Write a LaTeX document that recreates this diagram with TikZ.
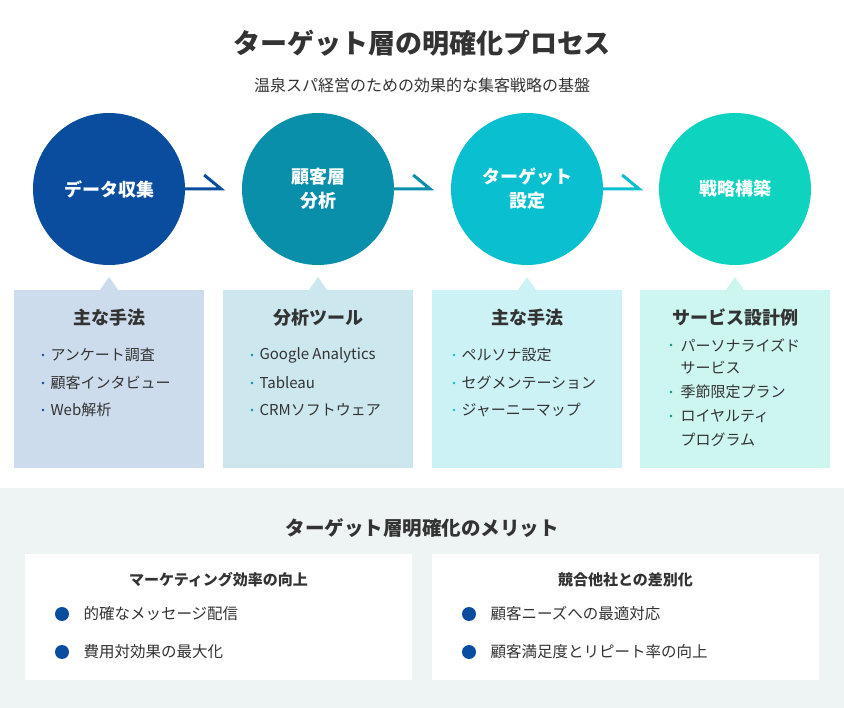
\documentclass[tikz,border=0pt]{standalone}
\usepackage{fontspec}
\setmainfont{Noto Sans CJK JP}
\begin{document}
\begin{tikzpicture}[x=1pt,y=-1pt]
\definecolor{cA}{HTML}{0A4C9E}\definecolor{cB}{HTML}{0A8FAA}\definecolor{cC}{HTML}{0ABFCF}\definecolor{cD}{HTML}{0DD3BF}
\definecolor{bA}{HTML}{CDDCEC}\definecolor{bB}{HTML}{CCE7ED}\definecolor{bC}{HTML}{CDF2F5}\definecolor{bD}{HTML}{CDF6F1}
\definecolor{bg}{HTML}{EEF3F4}\definecolor{tx}{HTML}{333333}
\tikzset{circ/.style={circle,minimum size=152pt,inner sep=0pt,text=white,font=\bfseries\fontsize{18}{24}\selectfont,align=center},
 box/.style={minimum width=190pt,minimum height=178pt,inner sep=0pt},
 bt/.style={font=\bfseries\fontsize{18}{20}\selectfont,text=tx},
 it/.style={font=\fontsize{15}{23.5}\selectfont,text=tx,anchor=west,align=left},
 arr/.style={line width=3pt},
 wb/.style={fill=white,minimum width=387pt,minimum height=126pt,inner sep=0pt}}
\useasboundingbox (0,0) rectangle (844,708);
\fill[white] (0,0) rectangle (844,708);
\node[font=\bfseries\fontsize{27}{30}\selectfont,text=tx] (title) at (422,43) {ターゲット層の明確化プロセス};
\node[font=\fontsize{16}{19}\selectfont,text=tx] (sub) at (422,85) {温泉スパ経営のための効果的な集客戦略の基盤};
\foreach \x/\c/\b/\t [count=\i] in {109/cA/bA/データ収集,318/cB/bB/{顧客層\\分析},527/cC/bC/{ターゲット\\設定},735/cD/bD/戦略構築}{
 \node[circ,fill=\c] (c\i) at (\x,189) {\t};
 \node[box,fill=\b] (b\i) at (\x,379) {};
 \fill[\b] (\x-9,290) -- (\x,277) -- (\x+9,290) -- cycle;
}
\foreach \i/\j/\c in {1/2/cA,2/3/cB,3/4/cC}{
 \coordinate (e\i) at ([xshift=36pt]c\i.east);
 \draw[arr,\c] (c\i.east) -- (e\i) -- ++(-17,-14);
}
\node[bt] (h1) at (109,318) {主な手法};
\node[bt] (h2) at (318,318) {分析ツール};
\node[bt] (h3) at (527,318) {主な手法};
\node[bt] (h4) at (735,318) {サービス設計例};
\foreach \x/\y/\t/\c in {47/355/アンケート調査/cA,47/383/顧客インタビュー/cA,47/410/Web解析/cA,
 256/355/Google Analytics/cB,256/383/Tableau/cB,256/410/CRMソフトウェア/cB,
 458/355/ペルソナ設定/cC,458/383/セグメンテーション/cC,458/410/ジャーニーマップ/cC}{
 \fill[\c] (\x-4,\y) circle (1.3pt);
 \node[it] at (\x,\y) {\t};}
\foreach \y in {345,392,416}{\fill[cD!70!black] (671,\y) circle (1.3pt);}
\node[it,anchor=west] (i41) at (677,345) {パーソナライズド};
\node[it,anchor=west] (i41b) at (677,368) {サービス};
\node[it,anchor=west] (i42) at (677,392) {季節限定プラン};
\node[it,anchor=west] (i43) at (677,416) {ロイヤルティ};
\node[it,anchor=west] (i43b) at (677,440) {プログラム};
\fill[bg] (0,488) rectangle (844,708);
\node[font=\bfseries\fontsize{19.5}{23}\selectfont,text=tx] (mt) at (422,528) {ターゲット層明確化のメリット};
\node[wb] (w1) at (218.5,617) {};
\node[wb] (w2) at (625.5,617) {};
\node[font=\bfseries\fontsize{15}{18}\selectfont,text=tx] at (218.5,580) {マーケティング効率の向上};
\node[font=\bfseries\fontsize{15}{18}\selectfont,text=tx] at (625.5,580) {競合他社との差別化};
\foreach \x/\y/\t in {84/614/的確なメッセージ配信,84/652/費用対効果の最大化,491/614/顧客ニーズへの最適対応,491/652/顧客満足度とリピート率の向上}{
 \fill[cA] (\x-22,\y) circle (7pt);
 \node[it,font=\fontsize{15.5}{18}\selectfont] at (\x-4,\y) {\t};}
\end{tikzpicture}
\end{document}
